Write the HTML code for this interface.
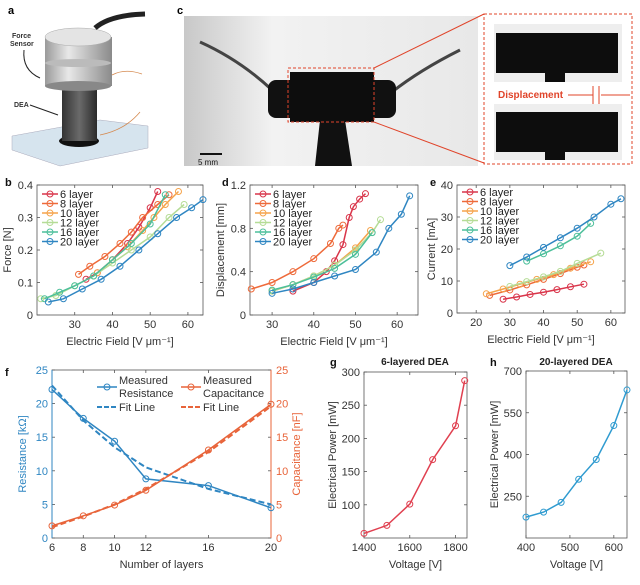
<!DOCTYPE html>
<html><head><meta charset="utf-8"><style>
body{margin:0;background:#fff;}
svg{display:block;font-family:"Liberation Sans",sans-serif;}
</style></head><body>
<svg id="fig" width="640" height="585" viewBox="0 0 640 585">
<defs>
<linearGradient id="cyl" x1="0" x2="1"><stop offset="0" stop-color="#9a9a9a"/><stop offset="0.35" stop-color="#e8e8e8"/><stop offset="1" stop-color="#8a8a8a"/></linearGradient>
<linearGradient id="tube" x1="0" x2="1"><stop offset="0" stop-color="#333"/><stop offset="0.5" stop-color="#6a6a6a"/><stop offset="1" stop-color="#2a2a2a"/></linearGradient>
<linearGradient id="photo" x1="0" x2="1"><stop offset="0" stop-color="#c8c8c8"/><stop offset="0.3" stop-color="#f2f2f2"/><stop offset="1" stop-color="#e8e8e8"/></linearGradient>
</defs>
<!-- panel a -->
<g>
<text x="8" y="14" font-size="11" font-weight="bold">a</text>
<polygon points="12,136 100,120 148,126 148,148 60,166 12,150" fill="#d6e4ee" stroke="#aab" stroke-width="0.5"/>
<ellipse cx="79" cy="141" rx="20" ry="6" fill="#111"/>
<rect x="62" y="84" width="35" height="57" fill="url(#tube)"/>
<rect x="45" y="62" width="67" height="24" fill="url(#cyl)"/>
<ellipse cx="78" cy="86" rx="33" ry="5" fill="#888"/>
<rect x="45" y="37" width="67" height="26" fill="url(#cyl)"/>
<ellipse cx="78" cy="63" rx="33" ry="4" fill="#bbb"/>
<ellipse cx="78" cy="37" rx="33" ry="9" fill="#e4e4e4" stroke="#aaa" stroke-width="0.5"/>
<path d="M95,28 Q110,15 145,14" stroke="#222" stroke-width="5" fill="none"/>
<path d="M112,75 Q125,68 142,74" stroke="#d58a50" stroke-width="0.8" fill="none"/>
<path d="M100,135 Q125,130 140,112" stroke="#d58a50" stroke-width="0.8" fill="none"/>
<text x="12" y="38" font-size="7" font-weight="bold" fill="#333">Force</text>
<text x="10" y="46" font-size="7" font-weight="bold" fill="#333">Sensor</text>
<path d="M24,50 Q22,70 40,78" stroke="#222" fill="none"/>
<text x="14" y="107" font-size="7" font-weight="bold" fill="#333">DEA</text>
<path d="M30,105 L58,115" stroke="#222" fill="none"/>
</g>
<!-- panel c -->
<g>
<text x="177" y="14" font-size="11" font-weight="bold">c</text>
<rect x="184" y="16" width="294" height="150" fill="url(#photo)"/>
<path d="M200,42 Q240,60 272,90" stroke="#444" stroke-width="3" fill="none"/>
<path d="M460,50 Q420,70 392,92" stroke="#444" stroke-width="3" fill="none"/>
<rect x="268" y="80" width="36" height="38" rx="8" fill="#111"/>
<rect x="360" y="80" width="36" height="38" rx="8" fill="#111"/>
<rect x="290" y="72" width="84" height="50" fill="#0d0d0d"/>
<polygon points="320,120 345,120 352,166 315,166" fill="#111"/>
<rect x="288" y="68" width="86" height="54" fill="none" stroke="#e0442a" stroke-dasharray="3,2"/>
<line x1="374" y1="68" x2="484" y2="14" stroke="#e0442a"/>
<line x1="374" y1="122" x2="484" y2="163" stroke="#e0442a"/>
<line x1="200" y1="154" x2="222" y2="154" stroke="#111" stroke-width="2"/>
<text x="198" y="165" font-size="8" fill="#111">5 mm</text>
<rect x="484" y="14" width="148" height="150" fill="#fff" stroke="#e0442a" stroke-dasharray="3,2"/>
<rect x="494" y="24" width="128" height="58" fill="#eee"/>
<rect x="496" y="33" width="122" height="40" fill="#0d0d0d"/>
<rect x="545" y="73" width="20" height="9" fill="#0d0d0d"/>
<rect x="494" y="104" width="128" height="56" fill="#eee"/>
<rect x="496" y="112" width="122" height="40" fill="#0d0d0d"/>
<rect x="545" y="150" width="20" height="10" fill="#0d0d0d"/>
<text x="498" y="98" font-size="10" font-weight="bold" fill="#e0442a">Displacement</text>
<line x1="568" y1="95" x2="593" y2="95" stroke="#e0442a"/><line x1="601" y1="95" x2="630" y2="95" stroke="#e0442a"/>
<line x1="593" y1="86" x2="593" y2="104" stroke="#e0442a"/><line x1="599" y1="86" x2="599" y2="104" stroke="#e0442a"/>
</g>
<g id="charts"></g>
</svg>
<script>
// ---- data: panel b (force) ----
const layerNames = ["6 layer","8 layer","10 layer","12 layer","16 layer","20 layer"];
const forceX6 = [33,36,40,44,47,50,52];           const forceY6 = [0.11,0.13,0.17,0.22,0.27,0.33,0.38];
const forceX8 = [31,34,38,42,45,48,52,55];        const forceY8 = [0.125,0.15,0.18,0.22,0.255,0.30,0.34,0.37];
const forceX10 = [36,40,44,48,51,54,57.5];        const forceY10 = [0.13,0.17,0.21,0.26,0.30,0.34,0.38];
const forceX12 = [21,25,30,35,40,45,50,55,59];    const forceY12 = [0.05,0.06,0.09,0.12,0.16,0.20,0.24,0.30,0.34];
const forceX16 = [22,26,30,35,40,45,50,54];       const forceY16 = [0.05,0.07,0.09,0.12,0.17,0.22,0.28,0.37];
const forceX20 = [23,27,32,37,42,47,52,57,61,64]; const forceY20 = [0.04,0.05,0.08,0.11,0.15,0.20,0.25,0.30,0.33,0.355];
// ---- panel d (displacement) ----
const dispX6 = [35,40,43,45,47,48.5,49.5,51,52.4]; const dispY6 = [0.22,0.3,0.4,0.5,0.65,0.9,1.0,1.07,1.12];
const dispX8 = [25,30,35,40,44,46,47];             const dispY8 = [0.24,0.3,0.4,0.52,0.66,0.8,0.83];
const dispX10 = [30,35,40,45,50,53.6];             const dispY10 = [0.22,0.28,0.36,0.46,0.62,0.78];
const dispX12 = [30,35,40,45,50,54,56];            const dispY12 = [0.22,0.28,0.36,0.46,0.6,0.76,0.88];
const dispX16 = [30,35,40,45,50,54];               const dispY16 = [0.23,0.28,0.35,0.43,0.56,0.76];
const dispX20 = [30,35,40,45,50,55,58,61,63];      const dispY20 = [0.2,0.24,0.3,0.36,0.42,0.58,0.8,0.93,1.1];
// ---- panel e (current) ----
const curX6 = [28,32,36,40,44,48,52];       const curY6 = [4.3,5,5.8,6.5,7.3,8.2,9];
const curX8 = [24,30,35,40,45,50,52];       const curY8 = [5.5,7.2,8.8,10.5,12.3,14.3,15];
const curX10 = [23,28,33,38,43,48,54];      const curY10 = [6,7.5,9,10.5,12,14,16];
const curX12 = [30,35,40,45,50,57];         const curY12 = [8.3,9.8,11.3,13,15.5,18.7];
const curX16 = [35,40,45,50,54];            const curY16 = [16.2,18.5,21,24,28];
const curX20 = [30,35,40,45,50,55,60,63];   const curY20 = [14.8,17.5,20.5,23.5,26.5,30,34,35.7];
// ---- panel f ----
const layers = [6,8,10,12,16,20];
const resistance = [22.1,17.8,14.4,8.8,7.8,4.5];
const resistanceFit = [22.7,17.5,13.5,10.5,7.3,5.0];
const capacitance = [1.8,3.3,4.9,7.1,13.1,19.9];
const capacitanceFit = [1.6,3.2,5.0,7.3,12.8,19.6];
const fXTicks = [6,8,10,12,16,20];
const fYTicks = [0,5,10,15,20,25];
// ---- panel g, h ----
const gVoltage = [1400,1500,1600,1700,1800,1840];
const gPower = [57,69,101,168,219,287];
const hVoltage = [400,440,480,520,560,600,630];
const hPower = [175,193,228,311,382,504,632];

const layerColors = ["#d9354a","#ee6a3a","#f5a34a","#b5dc96","#4cbf9a","#2f86c2"];
const NS = "http://www.w3.org/2000/svg";
const root = document.getElementById("charts");
function mk(tag, attrs, parent){ const e=document.createElementNS(NS,tag); for(const k in attrs) e.setAttribute(k,attrs[k]); (parent||root).appendChild(e); return e; }
function txt(x,y,s,size,attrs,parent){ const t=mk("text",Object.assign({x:x,y:y,"font-size":size,fill:"#333"},attrs||{}),parent); t.textContent=s; return t; }

function axes(name, box, xr, yr, xticks, yticks, opts){
  const g = mk("g",{});
  
  
  const sx = v => box.x + (v-xr[0])/(xr[1]-xr[0])*box.w;
  const sy = v => box.y + box.h - (v-yr[0])/(yr[1]-yr[0])*box.h;
  mk("rect",{x:box.x,y:box.y,width:box.w,height:box.h,fill:"none",stroke:"#555","stroke-width":0.8},g);
  xticks.forEach(t=>{ const X=sx(t);
    mk("line",{x1:X,y1:box.y+box.h,x2:X,y2:box.y+box.h-3,stroke:"#555","stroke-width":0.8},g);
    mk("line",{x1:X,y1:box.y,x2:X,y2:box.y+3,stroke:"#555","stroke-width":0.8},g);
    const l=txt(X,box.y+box.h+13,String(t),11,{"text-anchor":"middle"},g);
    
    
  });
  yticks.forEach(t=>{ const Y=sy(t);
    mk("line",{x1:box.x,y1:Y,x2:box.x+3,y2:Y,stroke:"#555","stroke-width":0.8},g);
    if(!opts.right) mk("line",{x1:box.x+box.w,y1:Y,x2:box.x+box.w-3,y2:Y,stroke:"#555","stroke-width":0.8},g);
    const l=txt(box.x-4,Y+4,String(t),11,{"text-anchor":"end",fill:opts.ycolor||"#333"},g);
    
    
  });
  const xl=txt(box.x+box.w/2,box.y+box.h+30,opts.xlabel,11,{"text-anchor":"middle"},g);
  
  
  const yx=box.x-opts.ylabOff, yy=box.y+box.h/2;
  const yl=txt(yx,yy,opts.ylabel,11,{"text-anchor":"middle",transform:"rotate(-90 "+yx+" "+yy+")",fill:opts.ycolor||"#333"},g);
  
  
  return {g,sx,sy};
}
function series(ax, xs, ys, color, name, dash, markers){
  const s = mk("g",{},ax.g);
  
  
  const d = xs.map((x,i)=>(i?"L":"M")+ax.sx(x).toFixed(1)+","+ax.sy(ys[i]).toFixed(1)).join(" ");
  mk("path",{d:d,fill:"none",stroke:color,"stroke-width":dash?2:1.5,"stroke-dasharray":dash?"6,3":"none"},s);
  if(markers!==false) xs.forEach((x,i)=>{ const c=mk("circle",{cx:ax.sx(x),cy:ax.sy(ys[i]),r:3,fill:"none",stroke:color,"stroke-width":1},s);
    
    
  });
}
function legend(ax, x, y, step){
  layerNames.forEach((n,i)=>{ const Y=y+i*step;
    const e=mk("g",{},ax.g);
    
    
    mk("line",{x1:x,y1:Y,x2:x+16,y2:Y,stroke:layerColors[i],"stroke-width":1.5},e);
    mk("circle",{cx:x+8,cy:Y,r:3,fill:"none",stroke:layerColors[i]},e);
    txt(x+18,Y+4,n,11,{fill:"#222"},e);
  });
}
function label(x,y,s){ const t=txt(x,y,s,11,{"font-weight":"bold",fill:"#111"});   }

// panel b
label(5,186,"b");
const axB = axes("force-chart",{x:37,y:185,w:166,h:130},[20,64],[0,0.4],[30,40,50,60],[0,0.1,0.2,0.3,0.4],{xlabel:"Electric Field [V μm⁻¹]",ylabel:"Force [N]",ylabOff:26});
const fx=[forceX6,forceX8,forceX10,forceX12,forceX16,forceX20], fy=[forceY6,forceY8,forceY10,forceY12,forceY16,forceY20];
fx.forEach((xs,i)=>series(axB,xs,fy[i],layerColors[i],"force-series-"+layerNames[i].split(" ")[0]));
legend(axB,42,194,9.5);
// panel d
label(222,186,"d");
const axD = axes("displacement-chart",{x:250,y:185,w:168,h:130},[24.7,65],[0,1.2],[30,40,50,60],[0,0.4,0.8,1.2],{xlabel:"Electric Field [V μm⁻¹]",ylabel:"Displacement [mm]",ylabOff:26});
const dx=[dispX6,dispX8,dispX10,dispX12,dispX16,dispX20], dy=[dispY6,dispY8,dispY10,dispY12,dispY16,dispY20];
dx.forEach((xs,i)=>series(axD,xs,dy[i],layerColors[i],"displacement-series-"+layerNames[i].split(" ")[0]));
legend(axD,255,194,9.5);
// panel e
label(430,186,"e");
const axE = axes("current-chart",{x:457,y:185,w:168,h:128},[14.3,64.2],[0,40],[20,30,40,50,60],[0,10,20,30,40],{xlabel:"Electric Field [V μm⁻¹]",ylabel:"Current [mA]",ylabOff:22});
const cx=[curX6,curX8,curX10,curX12,curX16,curX20], cy=[curY6,curY8,curY10,curY12,curY16,curY20];
cx.forEach((xs,i)=>series(axE,xs,cy[i],layerColors[i],"current-series-"+layerNames[i].split(" ")[0]));
legend(axE,462,192,9.5);
// panel f
label(5,376,"f");
const blue="#2f86c2", orange="#e8643a";
const axF = axes("layers-chart",{x:52,y:370,w:219,h:168},[6,20],[0,25],fXTicks,fYTicks,{xlabel:"Number of layers",ylabel:"Resistance [kΩ]",ylabOff:26,ycolor:blue,right:true});
fYTicks.forEach(t=>{ const Y=axF.sy(t);
  mk("line",{x1:271,y1:Y,x2:268,y2:Y,stroke:"#555","stroke-width":0.8},axF.g);
  const l=txt(276,Y+4,String(t),11,{fill:orange},axF.g);
  
  
});
mk("line",{x1:52,y1:370,x2:52,y2:538,stroke:blue,"stroke-width":1},axF.g);
mk("line",{x1:271,y1:370,x2:271,y2:538,stroke:orange,"stroke-width":1},axF.g);
const ryl=txt(300,454,"Capacitance [nF]",11,{"text-anchor":"middle",fill:orange,transform:"rotate(-90 300 454)"},axF.g);


series(axF,layers,resistanceFit,blue,"resistance-fit-line",true,false);
series(axF,layers,capacitanceFit,orange,"capacitance-fit-line",true,false);
series(axF,layers,resistance,blue,"resistance-series");
series(axF,layers,capacitance,orange,"capacitance-series");
(function(){
  const lg=mk("g",{},axF.g);
  
  
  mk("line",{x1:97,y1:387,x2:117,y2:387,stroke:blue,"stroke-width":1.5},lg); mk("circle",{cx:107,cy:387,r:3,fill:"none",stroke:blue},lg);
  txt(119,384,"Measured",11,{fill:"#333"},lg); txt(119,397,"Resistance",11,{fill:"#333"},lg);
  mk("line",{x1:97,y1:407,x2:117,y2:407,stroke:blue,"stroke-width":2,"stroke-dasharray":"5,2"},lg); txt(119,411,"Fit Line",11,{fill:"#333"},lg);
  mk("line",{x1:181,y1:387,x2:201,y2:387,stroke:orange,"stroke-width":1.5},lg); mk("circle",{cx:191,cy:387,r:3,fill:"none",stroke:orange},lg);
  txt(203,384,"Measured",11,{fill:"#333"},lg); txt(203,397,"Capacitance",11,{fill:"#333"},lg);
  mk("line",{x1:181,y1:407,x2:201,y2:407,stroke:orange,"stroke-width":2,"stroke-dasharray":"5,2"},lg); txt(203,411,"Fit Line",11,{fill:"#333"},lg);
})();
// panel g
label(330,366,"g");
const gt=txt(415,365,"6-layered DEA",10,{"text-anchor":"middle","font-weight":"bold",fill:"#222"});  
const axG = axes("power-6-layer-chart",{x:364,y:372,w:103,h:166},[1400,1850],[50,300],[1400,1600,1800],[100,150,200,250,300],{xlabel:"Voltage [V]",ylabel:"Electrical Power [mW]",ylabOff:28});
series(axG,gVoltage,gPower,"#e04050","power-6-layer-series");
// panel h
label(490,366,"h");
const ht=txt(576,365,"20-layered DEA",10,{"text-anchor":"middle","font-weight":"bold",fill:"#222"});  
const axH = axes("power-20-layer-chart",{x:526,y:371,w:101,h:167},[400,630],[100,700],[400,500,600],[250,400,550,700],{xlabel:"Voltage [V]",ylabel:"Electrical Power [mW]",ylabOff:28});
series(axH,hVoltage,hPower,"#2f9bd0","power-20-layer-series");
</script>
</body></html>
